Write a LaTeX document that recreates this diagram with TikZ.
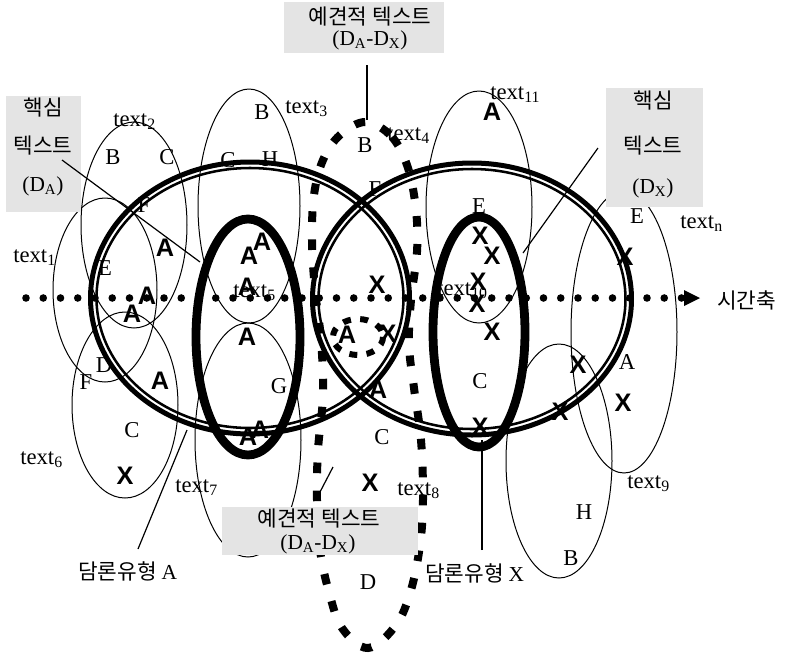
\documentclass[tikz,border=0pt]{standalone}
\usepackage{fontspec}
\setmainfont{Liberation Serif}
\newfontfamily\kr{Noto Sans CJK KR}
\newfontfamily\bsans{Liberation Sans}
\definecolor{boxgray}{RGB}{228,228,228}

\begin{document}
\begin{tikzpicture}[x=0.75pt,y=-0.75pt,
  every node/.style={inner sep=0pt},
  lbl/.style={font=\fontsize{17}{20}\selectfont},
  tlbl/.style={font=\fontsize{17}{20}\selectfont, anchor=base west},
  bold/.style={font=\bsans\bfseries\fontsize{19}{20}\selectfont},
  kor/.style={font=\kr\fontsize{16}{19}\selectfont},
  boxtxt/.style={font=\fontsize{16}{19}\selectfont},
  member/.style={draw, line width=0.75pt},
  ringout/.style={draw, line width=3.75pt},
  ringin/.style={draw, line width=1.9pt},
  core/.style={draw, line width=6.6pt},
  foresee/.style={draw, line width=6pt, dash pattern=on 8pt off 13pt},
  foreseesmall/.style={draw, line width=4.5pt, dash pattern=on 6pt off 7pt},
  link/.style={draw, line width=0.9pt}
]
\fill[white] (0,0) rectangle (794,654);
\useasboundingbox (0,0) rectangle (794,654);

% ---- single texts (thin ellipses) ----
\path[member] (105,290) ellipse [x radius=52, y radius=92];   % text1
\path[member] (134,225) ellipse [x radius=53, y radius=103];  % text2
\path[member] (249,206) ellipse [x radius=51, y radius=117];  % text3
\path[member] (125,405) ellipse [x radius=53, y radius=93];   % text6
\path[member] (248,440) ellipse [x radius=53, y radius=117];  % text7
\path[member] (479,207) ellipse [x radius=53, y radius=116];  % text11
\path[member] (624,332) ellipse [x radius=53, y radius=141];  % text9
\path[member] (559,461) ellipse [x radius=53, y radius=117];  % text with H, B

% ---- time axis ----
\foreach \k in {0,...,38} \fill ({26+17.25*\k},298) circle (3.8);
\coordinate (axisend) at (700,298);
\fill (684,290) -- (axisend) -- (684,306) -- cycle;
\node[kor, anchor=west] (axislbl) at (717,300) {시간축};

% ---- labels of the texts ----
\node[tlbl] (t1) at (13,262) {text\textsubscript{1}};
\node[tlbl] (t2) at (113,126) {text\textsubscript{2}};
\node[tlbl] (t3) at (285,113) {text\textsubscript{3}};
\node[tlbl] (t4) at (387,140) {text\textsubscript{4}};
\node[tlbl] (t5) at (233,297) {text\textsubscript{5}};
\node[tlbl] (t6) at (20,464) {text\textsubscript{6}};
\node[tlbl] (t7) at (175,492) {text\textsubscript{7}};
\node[tlbl] (t8) at (397,495) {text\textsubscript{8}};
\node[tlbl] (t9) at (627,488) {text\textsubscript{9}};
\node[tlbl] (t10) at (437,295) {text\textsubscript{10}};
\node[tlbl] (t11) at (490,99) {text\textsubscript{11}};
\node[tlbl] (tn) at (680,228) {text\textsubscript{n}};

% ---- element letters ----
\node[lbl] (e1) at (262,112) {B};
\node[lbl] (e2) at (228,160) {C};
\node[lbl] (e3) at (270,159) {H};
\node[lbl] (e4) at (365,145) {B};
\node[lbl] (e5) at (375,189) {F};
\node[lbl] (e6) at (113,157) {B};
\node[lbl] (e7) at (167,157) {C};
\node[lbl] (e8) at (144,205) {F};
\node[lbl] (e9) at (105,268) {E};
\node[lbl] (e10) at (279,386) {G};
\node[lbl] (e11) at (104,365) {D};
\node[lbl] (e12) at (86,382) {F};
\node[lbl] (e13) at (132,430) {C};
\node[lbl] (e14) at (382,437) {C};
\node[lbl] (e15) at (368,582) {D};
\node[lbl] (e16) at (479,206) {E};
\node[lbl] (e17) at (480,381) {C};
\node[lbl] (e18) at (637,216) {E};
\node[lbl] (e19) at (627,362) {A};
\node[lbl] (e20) at (584,512) {H};
\node[lbl] (e21) at (571,558) {B};

% ---- discourse marks A ----
\node[bold] (a1) at (165,248) {A};
\node[bold] (a2) at (147,296) {A};
\node[bold] (a3) at (132,314) {A};
\node[bold] (a4) at (262,242) {A};
\node[bold] (a5) at (249,256) {A};
\node[bold] (a6) at (247,287) {A};
\node[bold] (a7) at (247,337) {A};
\node[bold] (a8) at (260,430) {A};
\node[bold] (a9) at (248,437) {A};
\node[bold] (a10) at (160,381) {A};
\node[bold] (a11) at (347,335) {A};
\node[bold] (a12) at (378,390) {A};
\node[bold] (a13) at (492,112) {A};

% ---- discourse marks X ----
\node[bold] (x1) at (125,476) {X};
\node[bold] (x2) at (377,285) {X};
\node[bold] (x3) at (388,334) {X};
\node[bold] (x4) at (370,483) {X};
\node[bold] (x5) at (480,236) {X};
\node[bold] (x6) at (492,256) {X};
\node[bold] (x7) at (478,282) {X};
\node[bold] (x8) at (477,304) {X};
\node[bold] (x9) at (492,332) {X};
\node[bold] (x10) at (480,427) {X};
\node[bold] (x11) at (625,257) {X};
\node[bold] (x12) at (578,365) {X};
\node[bold] (x13) at (623,403) {X};
\node[bold] (x14) at (560,412) {X};

% ---- grey caption boxes (upper ones) ----
\fill[boxgray] (284,2) rectangle (444,53);
\node[kor] (fTa) at (370,17) {예견적 텍스트};
\node[boxtxt] (fTb) at (370,40) {(D\textsubscript{A}-D\textsubscript{X})};

\fill[boxgray] (6,96) rectangle (81,212);
\node[kor] (cAa) at (43,108) {핵심};
\node[kor] (cAb) at (43,146) {텍스트};
\node[boxtxt] (cAc) at (43,186) {(D\textsubscript{A})};

\fill[boxgray] (606,88) rectangle (703,207);
\node[kor] (cXa) at (653,101) {핵심};
\node[kor] (cXb) at (653,146) {텍스트};
\node[boxtxt] (cXc) at (653,188) {(D\textsubscript{X})};

% ---- discourse types (double rings) ----
\path[ringout] (250,298) ellipse [x radius=159.5, y radius=136];
\path[ringin]  (250,298) ellipse [x radius=153.5, y radius=130];
\path[ringout] (472,299) ellipse [x radius=159.5, y radius=136];
\path[ringin]  (472,299) ellipse [x radius=153.5, y radius=130];

% ---- core texts ----
\path[core] (248,337) ellipse [x radius=52, y radius=118];
\path[core] (479,332) ellipse [x radius=46, y radius=115];

% ---- anticipatory texts (dashed) ----
\draw[foresee] plot[smooth cycle, tension=0.6] coordinates {
  (366,122) (392,137) (408,168) (416,210) (417,252) (411,300) (409,345)
  (414,388) (421,440) (423,500) (420,545) (411,590) (396,625) (368,648)
  (342,628) (329,592) (320,550) (317,500) (318,450) (323,395) (321,340)
  (315,290) (312,240) (314,195) (323,160) (340,135)};
\path[foreseesmall] (358,337) ellipse [x radius=25, y radius=18];

% ---- lower caption box, laid over the dashed outline ----
\fill[boxgray] (222,507) rectangle (418,555);
\node[kor] (fBa) at (319,519) {예견적 텍스트};
\node[boxtxt] (fBb) at (318,544) {(D\textsubscript{A}-D\textsubscript{X})};

% ---- leader lines ----
\coordinate (pT1) at (367,65);
\coordinate (pT2) at (367,120);
\draw[link] (pT1) -- (pT2);
\coordinate (pB1) at (320,492);
\coordinate (pB2) at (333,467);
\draw[link] (pB1) -- (pB2);
\coordinate (pA1) at (62,160);
\coordinate (pA2) at (200,262);
\draw[link] (pA1) -- (pA2);
\coordinate (pX1) at (598,148);
\coordinate (pX2) at (523,253);
\draw[link] (pX1) -- (pX2);

\node[kor, anchor=west] (typeA) at (78,571) {담론유형 \textrm{A}};
\node[kor, anchor=west] (typeX) at (425,573) {담론유형 \textrm{X}};
\coordinate (qA1) at (138,549);
\coordinate (qA2) at (187,430);
\draw[link] (qA1) -- (qA2);
\coordinate (qX1) at (482,550);
\coordinate (qX2) at (482,440);
\draw[link] (qX1) -- (qX2);
\end{tikzpicture}
\end{document}
